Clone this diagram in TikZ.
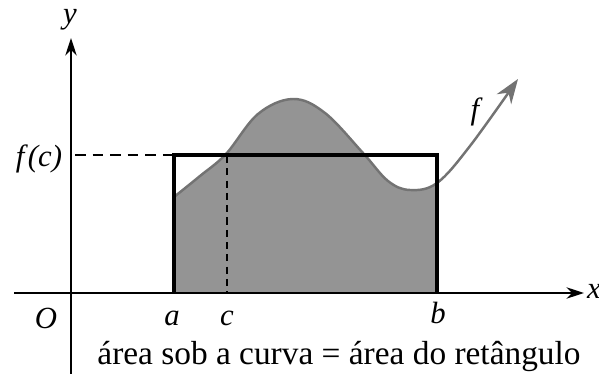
\documentclass[tikz,border=0pt]{standalone}
\usepackage{fontspec}
\setmainfont{Liberation Serif}
\usetikzlibrary{arrows.meta}
\begin{document}
\begin{tikzpicture}[x=0.02cm,y=-0.02cm,
  lbl/.style={font=\fontsize{17.5}{20}\selectfont\itshape, inner sep=0pt},
  axis/.style={line width=0.9pt, -{Stealth[length=10pt,width=6.5pt]}},
  rectline/.style={line width=2pt},
  curveline/.style={draw=black!55, line width=1.4pt},
  shade/.style={fill=black!42}]
\useasboundingbox (0,0) rectangle (599,374);
% named points
\coordinate (xs) at (14,293);
\coordinate (xe) at (584,293);
\coordinate (ys) at (71,374);
\coordinate (ye) at (71,38);
\coordinate (fcy) at (75,155);
\coordinate (A) at (174,293);
\coordinate (B) at (437,293);
\coordinate (C) at (227,293);
\coordinate (Ctop) at (227,156);
\coordinate (RA) at (174,155);
\coordinate (RB) at (437,155);
% shaded region
\begin{scope}
  \clip (174,0) rectangle (437,374);
  \fill[shade] plot[smooth,tension=0.6] coordinates {(150,215) (174,197) (200,176) (226,154) (258,114) (293,99) (325,113) (363,153) (388,181) (410,190) (437,183) (470,146) (517,80)} -- (517,293) -- (150,293) -- cycle;
\end{scope}
% curve
\draw[curveline, -{Stealth[length=14pt,width=10pt]}] plot[smooth,tension=0.6] coordinates {(174,197) (200,176) (226,154) (258,114) (293,99) (325,113) (363,153) (388,181) (410,190) (437,183) (470,146) (518,79)};
% dashed lines
\draw[line width=0.8pt, dash pattern=on 6pt off 4pt] (fcy) -- (RA);
\draw[line width=0.8pt, dash pattern=on 4pt off 3pt] (Ctop) -- (C);
% rectangle
\draw[rectline] (A) -- (RA) -- (RB) -- (B);
% axes
\draw[axis] (xs) -- (xe);
\draw[axis] (ys) -- (ye);
% labels
\node[lbl] (ylab) at (70,20) {y};
\node[lbl] (xlab) at (594,291) {x};
\node[lbl] (fclab) at (39,159) {f\/(c)};
\node[lbl] (flab) at (475,112) {f};
\node[lbl] (olab) at (46,318) {O};
\node[lbl] (alab) at (172,318) {a};
\node[lbl] (clab) at (227,318) {c};
\node[lbl] (blab) at (438,313) {b};
\node[font=\fontsize{19}{22}\selectfont, inner sep=0pt] (cap) at (339,356) {área sob a curva = área do retângulo};
\end{tikzpicture}
\end{document}
